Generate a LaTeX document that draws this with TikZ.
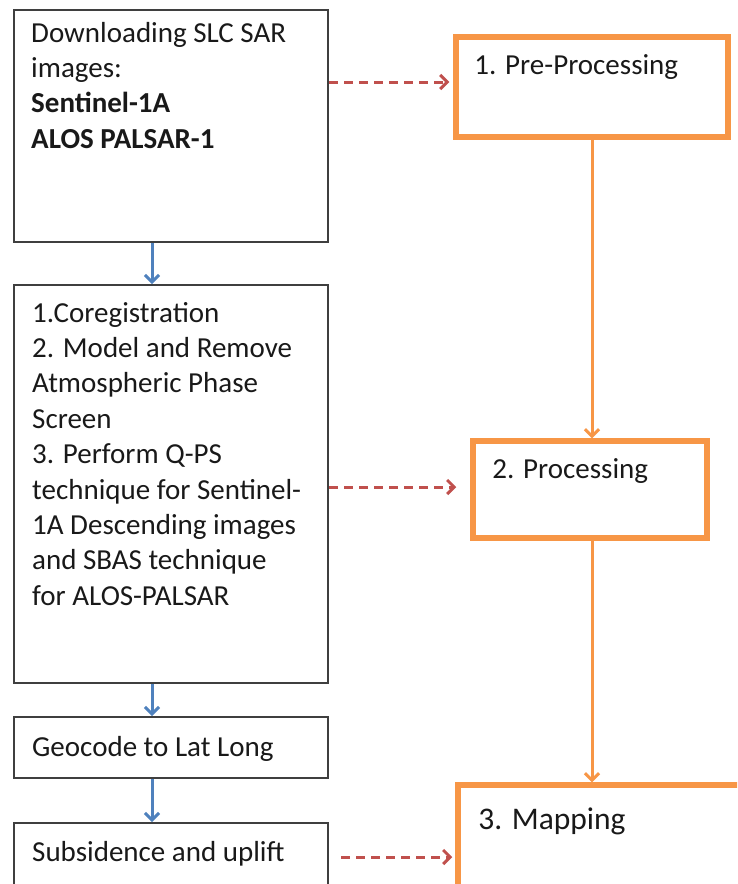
\documentclass[tikz,border=0pt]{standalone}
\usepackage{fontspec}
\setmainfont{Carlito}
\usetikzlibrary{arrows.meta}
\definecolor{stepline}{HTML}{3F3F3F}
\definecolor{phaseorange}{HTML}{F79646}
\definecolor{flowblue}{HTML}{4F81BD}
\definecolor{linkred}{HTML}{C0504D}
\tikzset{
    stepbox/.style={draw=stepline,line width=2pt,minimum width=314pt,inner sep=0pt},
    phasebox/.style={draw=phaseorange,line width=5.5pt,inner sep=0pt},
    boxtext/.style={anchor=north west,inner sep=0pt,align=left,text=black!90,font=\fontsize{29}{35.4}\selectfont},
    flowarrow/.style={flowblue,line width=3pt,-{Straight Barb[length=7pt,width=14pt]}},
    phasearrow/.style={phaseorange,line width=3pt,-{Straight Barb[length=7pt,width=14pt]}},
    linkarrow/.style={linkred,line width=3pt,dash pattern=on 9pt off 6pt,-{Straight Barb[length=7pt,width=14pt]}}
}
\begin{document}
\begin{tikzpicture}[x=1pt,y=-1pt]
    \useasboundingbox (0,0) rectangle (737,884);
    \clip (0,0) rectangle (737,884);

    % left column: processing chain
    \node[stepbox,minimum height=232pt] (dl) at (171,126) {};
    \node[stepbox,minimum height=398pt] (steps) at (171,484) {};
    \node[stepbox,minimum height=61pt] (geo) at (171,747.5) {};
    \node[stepbox,minimum height=68pt] (sub) at (171,857) {};

    \node[boxtext] (dlText) at ([shift={(18,8.2)}]dl.north west)
        {\strut Downloading SLC SAR\\images:\\\textbf{Sentinel-1A}\\\textbf{ALOS PALSAR-1}};
    \node[boxtext] (stepsText) at ([shift={(19,13.2)}]steps.north west)
        {\strut 1.Coregistration\\2. Model and Remove\\Atmospheric Phase\\Screen\\3. Perform Q-PS\\technique for Sentinel-\\1A Descending images\\and SBAS technique\\for ALOS-PALSAR};
    \node[boxtext] (geoText) at ([shift={(19,15.2)}]geo.north west) {\strut Geocode to Lat Long};
    \node[boxtext] (subText) at ([shift={(19,14.2)}]sub.north west) {\strut Subsidence and uplift};

    % right column: the three phases
    \node[phasebox,minimum width=272pt,minimum height=100pt] (pre) at (592,87) {};
    \node[phasebox,minimum width=234pt,minimum height=97pt] (proc) at (590,489.5) {};
    \node[phasebox,minimum width=302pt,minimum height=144pt] (map) at (609,857) {};

    \node[boxtext] (preText) at ([shift={(21,15.2)}]pre.north west) {\strut 1. Pre-Processing};
    \node[boxtext] (procText) at ([shift={(22,15.2)}]proc.north west) {\strut 2. Processing};
    \node[boxtext,font=\fontsize{31.5}{38}\selectfont] (mapText) at ([shift={(23,20.4)}]map.north west) {\strut 3. Mapping};

    % chain arrows
    \draw[flowarrow] ([xshift=-19pt]dl.south) -- ([xshift=-19pt]steps.north);
    \draw[flowarrow] ([xshift=-19pt]steps.south) -- ([xshift=-19pt]geo.north);
    \draw[flowarrow] ([xshift=-19pt]geo.south) -- ([xshift=-19pt]sub.north);

    % phase arrows
    \draw[phasearrow] (pre.south) -- (proc.north -| pre.south);
    \draw[phasearrow] (proc.south -| pre.south) -- (map.north -| pre.south);

    % links between the columns
    \draw[linkarrow] ([yshift=5pt]dl.east |- pre.west) -- ([xshift=-4pt,yshift=5pt]pre.west);
    \draw[linkarrow] ([yshift=2.5pt]steps.east |- proc.west) -- ([xshift=-14pt,yshift=2.5pt]proc.west);
    \draw[linkarrow] ([xshift=12pt]sub.east) -- ([xshift=-3pt]map.west);
\end{tikzpicture}
\end{document}
